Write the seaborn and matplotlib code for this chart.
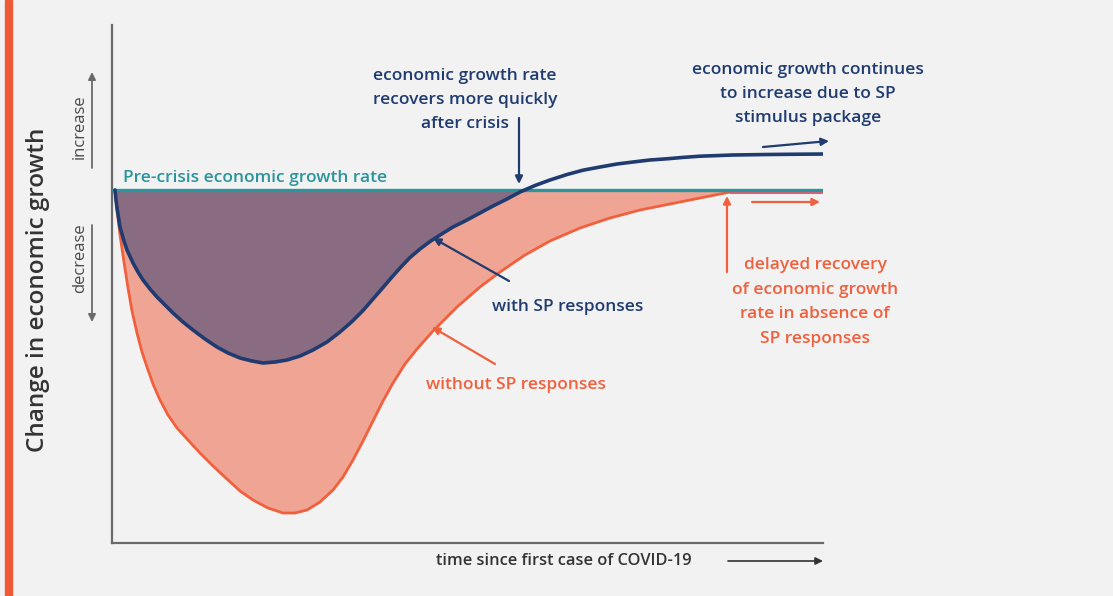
import numpy as np
import matplotlib
matplotlib.use("Agg")
import matplotlib.pyplot as plt
import seaborn as sns

# Values (arbitrary units: time since first case, change vs pre-crisis rate)
baseline_t = [0, 710]
baseline_g = [0, 0]

with_sp_t = [3, 4, 5, 8, 12, 15, 21, 26, 31, 38, 45, 53, 61, 71, 81, 93, 105, 116, 128, 140,
             151, 163, 175, 188, 201, 215, 228, 240, 251, 261, 271, 280, 288, 298, 308, 318,
             328, 341, 355, 368, 381, 395, 408, 423, 438, 455, 471, 488, 505, 521, 538, 555,
             571, 588, 621, 655, 688, 715]
with_sp_g = [0, -10, -18, -37, -51, -60, -73, -82, -90, -99, -107, -115, -123, -132, -140, -149,
             -157, -163, -168, -171, -173, -172, -170, -166, -160, -152, -142, -131.5, -120.5,
             -109, -97.5, -87, -78, -67.5, -59, -51.5, -45, -37, -30, -23, -16, -9, -2, 4.5, 10,
             15.5, 19.8, 23, 26, 28, 30, 31.2, 32.6, 33.8, 35, 35.5, 35.8, 36]

without_sp_t = [3, 5, 8, 12, 16, 20, 25, 30, 35, 41, 48, 56, 65, 76, 88, 101, 115, 128, 141,
                156, 171, 183, 195, 208, 221, 231, 241, 251, 261, 271, 281, 293, 305, 321, 345,
                368, 388, 413, 438, 468, 498, 528, 568, 598, 618, 710]
without_sp_g = [0, -20, -45, -72, -98, -121, -143, -162, -177, -194, -210, -225, -238, -250,
                -263, -276, -289, -301, -310, -318, -323, -323, -320, -312, -300, -287, -270,
                -251, -231, -211, -193, -174, -159, -141, -117, -97, -82, -65, -51, -38, -28,
                -20, -12, -6, -2, -2]

# colours
BG = "#f2f2f2"
NAVY = "#1f3b70"
TEAL = "#2a959c"
ORANGE = "#f0603d"
SALMON = "#f0a493"
PURPLE = "#8a6c82"
GREY = "#6a6a6a"
DARK = "#333333"

sns.set_theme(style="white")
plt.rcParams["font.family"] = ["Open Sans", "DejaVu Sans"]

W, H = 1113, 596
fig = plt.figure(figsize=(W / 100, H / 100), dpi=100, facecolor=BG)
ax = fig.add_axes([112 / W, 1 - 543 / H, 711 / W, 518 / H])
ax.set_facecolor(BG)


def P(x, y):
    # picture pixel (top-left origin) -> figure pixels
    return (x, H - y)


wt = np.array(with_sp_t)
wg = np.array(with_sp_g)
ot = np.array(without_sp_t)
og = np.array(without_sp_g)

ax.fill_between(ot, og, 0, color=SALMON, lw=0, zorder=1)
ax.fill_between(wt, np.minimum(wg, 0), 0, color=PURPLE, lw=0, zorder=2)

sns.lineplot(x=ot, y=og, ax=ax, color=ORANGE, linewidth=2.0, estimator=None, zorder=3)
ax.plot(ot[-2:], og[-2:], color="#ec5a6e", lw=2.2, zorder=3)
sns.lineplot(x=baseline_t, y=baseline_g, ax=ax, color=TEAL, linewidth=2.4, estimator=None, zorder=4)
sns.lineplot(x=wt, y=wg, ax=ax, color=NAVY, linewidth=2.6, estimator=None, zorder=5)

ax.set_xlim(0, 711)
ax.set_ylim(-353, 165)
ax.set_xticks([])
ax.set_yticks([])
for s in ["top", "right"]:
    ax.spines[s].set_visible(False)
for s in ["left", "bottom"]:
    ax.spines[s].set_color(GREY)
    ax.spines[s].set_linewidth(1.6)
ax.set_xlabel("")
ax.set_ylabel("")

# left orange bar
fig.patches.append(plt.Rectangle((5 / W, 0), 7 / W, 1, transform=fig.transFigure,
                                 color="#ee5a36", zorder=0))


def arrow(x0, y0, x1, y1, color, lw=1.6):
    ax.annotate("", xy=P(x1, y1), xytext=P(x0, y0), xycoords="figure pixels",
                textcoords="figure pixels",
                arrowprops=dict(arrowstyle="-|>", color=color, lw=lw,
                                mutation_scale=11, shrinkA=0, shrinkB=0))


def label(x, y, s, color, size=12.5, ha="center", rot=0, weight="semibold"):
    fig.text(x / W, 1 - y / H, s, color=color, fontsize=size, ha=ha, va="center",
             rotation=rot, fontweight=weight, linespacing=1.7)


label(123, 178, "Pre-crisis economic growth rate", TEAL, ha="left")
label(465, 100, "economic growth rate\nrecovers more quickly\nafter crisis", NAVY)
arrow(519, 118, 519, 184, NAVY)
label(808, 94, "economic growth continues\nto increase due to SP\nstimulus package", NAVY)
arrow(763, 147, 829, 141, NAVY)
label(568, 307, "with SP responses", NAVY)
arrow(509, 281, 433, 238, NAVY)
label(516, 385, "without SP responses", ORANGE)
arrow(495, 364, 432, 327, ORANGE)
label(815, 302, "delayed recovery\nof economic growth\nrate in absence of\nSP responses", ORANGE)
arrow(727, 272, 727, 196, ORANGE)
arrow(752, 202, 820, 202, ORANGE)

label(38, 290, "Change in economic growth", DARK, size=17.5, rot=90, weight="semibold")
label(80, 127, "increase", "#4a4a4a", size=12, rot=90, weight="normal")
label(80, 258, "decrease", "#4a4a4a", size=12, rot=90, weight="normal")
arrow(92, 168, 92, 72, GREY, lw=1.3)
arrow(92, 225, 92, 322, GREY, lw=1.3)

label(564, 561, "time since first case of COVID-19", DARK, size=11.8)
arrow(728, 561, 823, 561, DARK, lw=1.2)

fig.savefig("out.png", dpi=100, facecolor=BG)
